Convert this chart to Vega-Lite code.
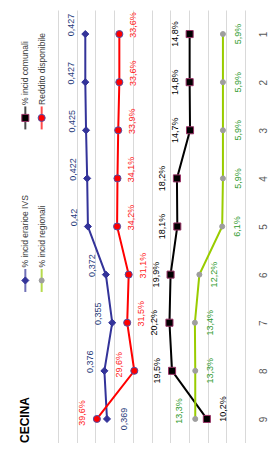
{
  "$schema": "https://vega.github.io/schema/vega-lite/v6.json",
  "padding": {"left": 9, "top": 10, "right": 0, "bottom": 0},
  "background": "white",
  "spacing": 0,
  "bounds": "flush",
  "config": {
    "locale": {"number": {"decimal": ",", "thousands": ".", "grouping": [3], "currency": ["€", ""]}},
    "view": {"stroke": null},
    "font": "Liberation Sans",
    "text": {"font": "Liberation Sans"}
  },
  "datasets": {
    "d": [
      {"cat": 1, "series": "% incid erarioe IVS", "value": 0.427},
      {"cat": 2, "series": "% incid erarioe IVS", "value": 0.427},
      {"cat": 3, "series": "% incid erarioe IVS", "value": 0.425},
      {"cat": 4, "series": "% incid erarioe IVS", "value": 0.422},
      {"cat": 5, "series": "% incid erarioe IVS", "value": 0.42},
      {"cat": 6, "series": "% incid erarioe IVS", "value": 0.372},
      {"cat": 7, "series": "% incid erarioe IVS", "value": 0.355},
      {"cat": 8, "series": "% incid erarioe IVS", "value": 0.376},
      {"cat": 9, "series": "% incid erarioe IVS", "value": 0.369},
      {"cat": 1, "series": "Reddito disponibile", "value": 0.336},
      {"cat": 2, "series": "Reddito disponibile", "value": 0.336},
      {"cat": 3, "series": "Reddito disponibile", "value": 0.339},
      {"cat": 4, "series": "Reddito disponibile", "value": 0.341},
      {"cat": 5, "series": "Reddito disponibile", "value": 0.342},
      {"cat": 6, "series": "Reddito disponibile", "value": 0.311},
      {"cat": 7, "series": "Reddito disponibile", "value": 0.315},
      {"cat": 8, "series": "Reddito disponibile", "value": 0.296},
      {"cat": 9, "series": "Reddito disponibile", "value": 0.396},
      {"cat": 1, "series": "% incid comunali", "value": 0.148},
      {"cat": 2, "series": "% incid comunali", "value": 0.148},
      {"cat": 3, "series": "% incid comunali", "value": 0.147},
      {"cat": 4, "series": "% incid comunali", "value": 0.182},
      {"cat": 5, "series": "% incid comunali", "value": 0.181},
      {"cat": 6, "series": "% incid comunali", "value": 0.199},
      {"cat": 7, "series": "% incid comunali", "value": 0.202},
      {"cat": 8, "series": "% incid comunali", "value": 0.195},
      {"cat": 9, "series": "% incid comunali", "value": 0.102},
      {"cat": 1, "series": "% incid regionali", "value": 0.059},
      {"cat": 2, "series": "% incid regionali", "value": 0.059},
      {"cat": 3, "series": "% incid regionali", "value": 0.059},
      {"cat": 4, "series": "% incid regionali", "value": 0.059},
      {"cat": 5, "series": "% incid regionali", "value": 0.061},
      {"cat": 6, "series": "% incid regionali", "value": 0.122},
      {"cat": 7, "series": "% incid regionali", "value": 0.134},
      {"cat": 8, "series": "% incid regionali", "value": 0.133},
      {"cat": 9, "series": "% incid regionali", "value": 0.133}
    ]
  },
  "hconcat": [
    {
      "width": 49,
      "height": 433,
      "encoding": {
        "x": {"field": "col", "type": "nominal", "scale": {"type": "point", "domain": ["c0", "c1"], "padding": 1}, "axis": null},
        "y": {"field": "row", "type": "nominal", "scale": {"type": "point", "domain": ["r1", "r2", "r3"], "padding": 0.332, "align": 1}, "axis": null}
      },
      "layer": [
        {
          "data": {"name": "d"},
          "transform": [
            {"filter": "datum.cat == 1"},
            {"calculate": "(datum.series == '% incid comunali' || datum.series == '% incid erarioe IVS') ? 'c0' : 'c1'", "as": "col"},
            {"calculate": "(datum.series == '% incid comunali' || datum.series == 'Reddito disponibile') ? 'r1' : 'r2'", "as": "row"}
          ],
          "mark": {"type": "tick", "orient": "vertical", "size": 23, "thickness": 2},
          "encoding": {
            "color": {"field": "series", "type": "nominal", "legend": null,
              "scale": {"domain": ["% incid erarioe IVS", "Reddito disponibile", "% incid comunali", "% incid regionali"], "range": ["#333399", "#FF0000", "#000000", "#99CC00"]}}
          }
        },
        {
          "data": {"name": "d"},
          "transform": [
            {"filter": "datum.cat == 1"},
            {"calculate": "(datum.series == '% incid comunali' || datum.series == '% incid erarioe IVS') ? 'c0' : 'c1'", "as": "col"},
            {"calculate": "(datum.series == '% incid comunali' || datum.series == 'Reddito disponibile') ? 'r1' : 'r2'", "as": "row"}
          ],
          "mark": {"type": "point", "filled": true, "strokeWidth": 1, "opacity": 1},
          "encoding": {
            "shape": {"field": "series", "type": "nominal", "legend": null,
              "scale": {"domain": ["% incid erarioe IVS", "Reddito disponibile", "% incid comunali", "% incid regionali"], "range": ["diamond", "circle", "square", "circle"]}},
            "fill": {"field": "series", "type": "nominal", "legend": null,
              "scale": {"domain": ["% incid erarioe IVS", "Reddito disponibile", "% incid comunali", "% incid regionali"], "range": ["#333399", "#FF0000", "#000000", "#9E9E9E"]}},
            "stroke": {"field": "series", "type": "nominal", "legend": null,
              "scale": {"domain": ["% incid erarioe IVS", "Reddito disponibile", "% incid comunali", "% incid regionali"], "range": ["#333399", "#5050A8", "#993366", "#9E9E9E"]}},
            "size": {"condition": {"test": "datum.series == '% incid regionali'", "value": 25}, "value": 50}
          }
        },
        {
          "data": {"name": "d"},
          "transform": [
            {"filter": "datum.cat == 1"},
            {"calculate": "(datum.series == '% incid comunali' || datum.series == '% incid erarioe IVS') ? 'c0' : 'c1'", "as": "col"},
            {"calculate": "(datum.series == '% incid comunali' || datum.series == 'Reddito disponibile') ? 'r1' : 'r2'", "as": "row"}
          ],
          "mark": {"type": "text", "angle": 270, "align": "left", "baseline": "middle", "dx": 13, "fontSize": 8.5, "color": "#404040"},
          "encoding": {"text": {"field": "series", "type": "nominal"}}
        },
        {
          "data": {"values": [{"t": "CECINA"}]},
          "mark": {"type": "text", "angle": 270, "align": "left", "baseline": "middle", "fontSize": 12, "fontWeight": "bold", "color": "#000000"},
          "encoding": {
            "x": {"datum": "c0", "type": "nominal"},
            "y": {"datum": "r3", "type": "nominal"},
            "text": {"field": "t", "type": "nominal"}
          }
        }
      ]
    },
    {
      "width": 187,
      "height": 433,
      "data": {"name": "d"},
      "encoding": {
        "y": {"field": "cat", "type": "ordinal", "scale": {"type": "point", "padding": 0.5},
          "axis": {"orient": "right", "title": null, "labelAngle": 270, "labelAlign": "center", "labelBaseline": "middle", "labelPadding": 18, "ticks": false, "tickSize": 0, "domain": false, "labelColor": "#595959", "labelFontSize": 10, "labelFont": "Liberation Sans"}},
        "x": {"field": "value", "type": "quantitative", "scale": {"domain": [0, 0.5], "reverse": true, "nice": false, "zero": true},
          "axis": {"orient": "top", "title": null, "labels": false, "ticks": false, "domain": false, "grid": true, "gridColor": "#d9d9d9", "gridWidth": 1, "values": [0, 0.05, 0.1, 0.15, 0.2, 0.25, 0.3, 0.35, 0.4, 0.45, 0.5]}}
      },
      "layer": [
        {
          "mark": {"type": "line", "strokeWidth": 2},
          "encoding": {
            "color": {"field": "series", "type": "nominal", "legend": null,
              "scale": {"domain": ["% incid erarioe IVS", "Reddito disponibile", "% incid comunali", "% incid regionali"], "range": ["#333399", "#FF0000", "#000000", "#99CC00"]}},
            "order": {"field": "cat", "type": "ordinal"}
          }
        },
        {
          "mark": {"type": "point", "filled": true, "strokeWidth": 1, "opacity": 1},
          "encoding": {
            "shape": {"field": "series", "type": "nominal", "legend": null,
              "scale": {"domain": ["% incid erarioe IVS", "Reddito disponibile", "% incid comunali", "% incid regionali"], "range": ["diamond", "circle", "square", "circle"]}},
            "fill": {"field": "series", "type": "nominal", "legend": null,
              "scale": {"domain": ["% incid erarioe IVS", "Reddito disponibile", "% incid comunali", "% incid regionali"], "range": ["#333399", "#FF0000", "#000000", "#9E9E9E"]}},
            "stroke": {"field": "series", "type": "nominal", "legend": null,
              "scale": {"domain": ["% incid erarioe IVS", "Reddito disponibile", "% incid comunali", "% incid regionali"], "range": ["#333399", "#5050A8", "#993366", "#9E9E9E"]}},
            "size": {"condition": {"test": "datum.series == '% incid regionali'", "value": 25}, "value": 50}
          }
        },
        {
          "transform": [{"filter": "datum.series == '% incid erarioe IVS' && datum.cat < 9"}],
          "mark": {"type": "text", "angle": 270, "align": "center", "baseline": "middle", "dy": -14, "dx": 9, "fontSize": 9, "color": "#1F3A7A"},
          "encoding": {"text": {"field": "value", "type": "quantitative", "format": ".3~f"}}
        },
        {
          "transform": [{"filter": "datum.series == '% incid erarioe IVS' && datum.cat == 9"}],
          "mark": {"type": "text", "angle": 270, "align": "center", "baseline": "middle", "dy": 17, "dx": 0, "fontSize": 9, "color": "#1F3A7A"},
          "encoding": {"text": {"field": "value", "type": "quantitative", "format": ".3~f"}}
        },
        {
          "transform": [{"filter": "datum.series == 'Reddito disponibile' && datum.cat < 8"}],
          "mark": {"type": "text", "angle": 270, "align": "center", "baseline": "middle", "dy": 14, "dx": 9, "fontSize": 9, "color": "#FF2020"},
          "encoding": {"text": {"field": "value", "type": "quantitative", "format": ".1%"}}
        },
        {
          "transform": [{"filter": "datum.series == 'Reddito disponibile' && datum.cat >= 8"}],
          "mark": {"type": "text", "angle": 270, "align": "center", "baseline": "middle", "dy": -15, "dx": 6, "fontSize": 9, "color": "#FF2020"},
          "encoding": {"text": {"field": "value", "type": "quantitative", "format": ".1%"}}
        },
        {
          "transform": [{"filter": "datum.series == '% incid comunali' && datum.cat < 9"}],
          "mark": {"type": "text", "angle": 270, "align": "center", "baseline": "middle", "dy": -15, "dx": 0, "fontSize": 9, "color": "#000000"},
          "encoding": {"text": {"field": "value", "type": "quantitative", "format": ".1%"}}
        },
        {
          "transform": [{"filter": "datum.series == '% incid comunali' && datum.cat == 9"}],
          "mark": {"type": "text", "angle": 270, "align": "center", "baseline": "middle", "dy": 16, "dx": 10, "fontSize": 9, "color": "#000000"},
          "encoding": {"text": {"field": "value", "type": "quantitative", "format": ".1%"}}
        },
        {
          "transform": [{"filter": "datum.series == '% incid regionali' && datum.cat < 9"}],
          "mark": {"type": "text", "angle": 270, "align": "center", "baseline": "middle", "dy": 15, "dx": 0, "fontSize": 9, "color": "#2E9A2E"},
          "encoding": {"text": {"field": "value", "type": "quantitative", "format": ".1%"}}
        },
        {
          "transform": [{"filter": "datum.series == '% incid regionali' && datum.cat == 9"}],
          "mark": {"type": "text", "angle": 270, "align": "center", "baseline": "middle", "dy": -16, "dx": 8, "fontSize": 9, "color": "#2E9A2E"},
          "encoding": {"text": {"field": "value", "type": "quantitative", "format": ".1%"}}
        }
      ]
    }
  ]
}
